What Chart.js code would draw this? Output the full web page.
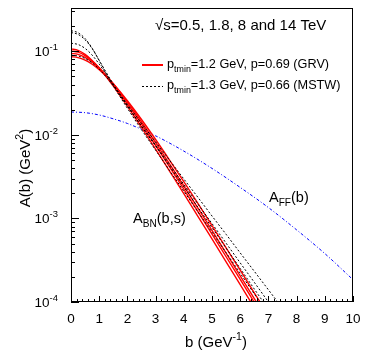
<!DOCTYPE html>
<html>
<head>
<meta charset="utf-8">
<script src="https://cdn.jsdelivr.net/npm/chart.js@4.4.0/dist/chart.umd.min.js"></script>
<style>
html, body { margin: 0; padding: 0; background: #fff; }
</style>
</head>
<body>
<canvas id="profileChart" width="373" height="360"></canvas>
<script>
// impact parameter grid (GeV^-1) for the A_BN curves
const bGrid = [0, 0.25, 0.5, 0.75, 1, 1.25, 1.5, 2, 2.5, 3, 3.5, 4, 4.5, 5, 5.5, 6, 6.5, 7, 7.5];

// GRV, ptmin=1.2 GeV, p=0.69 : sqrt(s) = 0.5, 1.8, 8, 14 TeV
const grv05 = [0.107, 0.1028, 0.0919, 0.0776, 0.0630, 0.0497, 0.0383, 0.0220, 0.0123, 0.00675, 0.00366, 0.00198, 0.00106, 0.000568, 0.000303, 0.000161, 0.0000859, 0.0000457, 0.0000243];
const grv18 = [0.1009, 0.0977, 0.0888, 0.0766, 0.0635, 0.0510, 0.0401, 0.0237, 0.01347, 0.00749, 0.00411, 0.00224, 0.00121, 0.000649, 0.000348, 0.000186, 0.0000991, 0.0000528, 0.0000281];
const grv8 = [0.0946, 0.0920, 0.0847, 0.0743, 0.0626, 0.0512, 0.0409, 0.0248, 0.01435, 0.00809, 0.00448, 0.00245, 0.00133, 0.000718, 0.000385, 0.000206, 0.000110, 0.0000586, 0.0000312];
const grv14 = [0.0863, 0.0842, 0.0784, 0.0700, 0.0602, 0.0502, 0.0409, 0.0256, 0.01527, 0.00880, 0.00496, 0.00275, 0.00151, 0.000823, 0.000445, 0.000240, 0.000129, 0.0000689, 0.0000368];

// MSTW, ptmin=1.3 GeV, p=0.66
const mstw05 = [0.177, 0.167, 0.1422, 0.1091, 0.0773, 0.0541, 0.0387, 0.0208, 0.01156, 0.00658, 0.00373, 0.00212, 0.00120, 0.000684, 0.000389, 0.000221, 0.000125, 0.0000713, 0.0000405];
const mstw18 = [0.168, 0.1594, 0.1372, 0.1078, 0.0780, 0.0559, 0.0405, 0.0223, 0.01266, 0.00737, 0.00420, 0.00239, 0.00136, 0.000776, 0.000442, 0.000252, 0.000143, 0.0000817, 0.0000465];
const mstw8 = [0.125, 0.1208, 0.1083, 0.0901, 0.0703, 0.0530, 0.0395, 0.0222, 0.01279, 0.00753, 0.00439, 0.00256, 0.00149, 0.000869, 0.000506, 0.000294, 0.000172, 0.000100, 0.0000583];
const mstw14 = [0.0899, 0.0879, 0.0820, 0.0727, 0.0612, 0.0494, 0.0388, 0.0231, 0.01377, 0.00825, 0.00495, 0.00297, 0.00179, 0.00107, 0.000646, 0.000387, 0.000233, 0.000140, 0.0000841];

// form factor profile A_FF(b)
const bFF = [0, 0.5, 1, 1.5, 2, 3, 4, 5, 6, 7, 8, 9, 10];
const aFF = [0.0188, 0.01844, 0.0173, 0.01556, 0.0137, 0.00974, 0.00640, 0.00397, 0.00235, 0.00135, 0.00073, 0.00038, 0.000185];

// axes
const xMajorTicks = [0, 1, 2, 3, 4, 5, 6, 7, 8, 9, 10];
const xTickLabels = ['0', '1', '2', '3', '4', '5', '6', '7', '8', '9', '10'];
const yMajorTicks = [1e-4, 1e-3, 1e-2, 1e-1];
const yTickExponents = ['-4', '-3', '-2', '-1'];
const yMax = 0.33;

const FONT = "'Liberation Sans', Arial, Helvetica, sans-serif";

const xTicks = [];
xMajorTicks.forEach((v, i) => {
    xTicks.push({ value: v, major: true });
    if (i < xMajorTicks.length - 1) {
        for (let k = 1; k < 5; k++) xTicks.push({ value: v + k * 0.2, major: false });
    }
});
const yTicks = [];
yMajorTicks.forEach(v => {
    for (let k = 1; k <= 9; k++) {
        if (v * k <= yMax) yTicks.push({ value: v * k, major: k === 1 });
    }
});

function pts(xs, ys) {
    return ys.map((y, i) => ({ x: xs[i], y: y }));
}

// text with sub/superscripts: parts = [[text, mode]], mode 0 normal, 1 sub, 2 sup
function richText(ctx, parts, x, y, size, align) {
    let total = 0;
    const widths = parts.map(([t, m]) => {
        ctx.font = (m ? size * 0.7 : size) + 'px ' + FONT;
        const w = ctx.measureText(t).width;
        total += w;
        return w;
    });
    let cx = align === 'center' ? x - total / 2 : (align === 'right' ? x - total : x);
    ctx.textAlign = 'left';
    ctx.textBaseline = 'alphabetic';
    parts.forEach(([t, m], i) => {
        ctx.font = (m ? size * 0.7 : size) + 'px ' + FONT;
        const dy = m === 1 ? size * 0.3 : (m === 2 ? -size * 0.45 : 0);
        ctx.fillText(t, cx, y + dy);
        cx += widths[i];
    });
}

const rootStyle = {
    id: 'rootStyle',
    afterDraw(chart) {
        const ctx = chart.ctx;
        const a = chart.chartArea;
        const xs = chart.scales.x, ys = chart.scales.y;
        ctx.save();
        ctx.strokeStyle = '#000';
        ctx.fillStyle = '#000';
        ctx.lineWidth = 1;
        ctx.setLineDash([]);
        ctx.strokeRect(a.left + 0.5, a.top + 0.5, a.right - a.left - 1, a.bottom - a.top - 1);

        ctx.beginPath();
        xs.ticks.forEach(t => {
            const px = Math.round(xs.getPixelForValue(t.value)) + 0.5;
            const len = t.major ? 6 : 3;
            ctx.moveTo(px, a.bottom);
            ctx.lineTo(px, a.bottom - len);
        });
        ys.ticks.forEach(t => {
            const py = Math.round(ys.getPixelForValue(t.value)) + 0.5;
            const len = t.major ? 8 : 4;
            ctx.moveTo(a.left, py);
            ctx.lineTo(a.left + len, py);
        });
        ctx.stroke();

        // y tick labels 10^n
        yMajorTicks.forEach((v, i) => {
            const py = ys.getPixelForValue(v);
            richText(ctx, [['10', 0], [yTickExponents[i], 2]], 58, py + 5, 13.5, 'right');
        });

        // axis titles
        richText(ctx, [['b (GeV', 0], ['-1', 2], [')', 0]], 216, 347, 15, 'center');
        ctx.save();
        ctx.translate(25, 168);
        ctx.rotate(-Math.PI / 2);
        richText(ctx, [['A(b) (GeV', 0], ['2', 2], [')', 0]], 0, 5, 15, 'center');
        ctx.restore();

        // header and legend
        richText(ctx, [['\u221As=0.5, 1.8, 8 and 14 TeV', 0]], 155, 30, 15, 'left');
        ctx.strokeStyle = '#ff0000';
        ctx.lineWidth = 2;
        ctx.beginPath();
        ctx.moveTo(142, 65);
        ctx.lineTo(163, 65);
        ctx.stroke();
        ctx.strokeStyle = '#000';
        ctx.lineWidth = 1;
        ctx.setLineDash([2, 2]);
        ctx.beginPath();
        ctx.moveTo(142, 86.5);
        ctx.lineTo(163, 86.5);
        ctx.stroke();
        ctx.setLineDash([]);
        richText(ctx, [['p', 0], ['tmin', 1], ['=1.2 GeV, p=0.69 (GRV)', 0]], 167, 68, 12.7, 'left');
        richText(ctx, [['p', 0], ['tmin', 1], ['=1.3 GeV, p=0.66 (MSTW)', 0]], 167, 89, 12.7, 'left');

        // curve labels
        richText(ctx, [['A', 0], ['BN', 1], ['(b,s)', 0]], 133, 223, 14.5, 'left');
        richText(ctx, [['A', 0], ['FF', 1], ['(b)', 0]], 269, 202, 14.5, 'left');
        ctx.restore();
    }
};

const mstwStyle = { borderColor: '#000000', borderWidth: 1, borderDash: [2, 2] };
const grvStyle = { borderColor: '#ff0000', borderWidth: 1.4 };

const profileChart = new Chart(document.getElementById('profileChart').getContext('2d'), {
    type: 'line',
    data: {
        datasets: [
            { label: 'MSTW 0.5 TeV', data: pts(bGrid, mstw05), ...mstwStyle },
            { label: 'MSTW 1.8 TeV', data: pts(bGrid, mstw18), ...mstwStyle },
            { label: 'MSTW 8 TeV', data: pts(bGrid, mstw8), ...mstwStyle },
            { label: 'MSTW 14 TeV', data: pts(bGrid, mstw14), ...mstwStyle },
            { label: 'GRV 0.5 TeV', data: pts(bGrid, grv05), ...grvStyle },
            { label: 'GRV 1.8 TeV', data: pts(bGrid, grv18), ...grvStyle },
            { label: 'GRV 8 TeV', data: pts(bGrid, grv8), ...grvStyle },
            { label: 'GRV 14 TeV', data: pts(bGrid, grv14), ...grvStyle },
            { label: 'A_FF(b)', data: pts(bFF, aFF), borderColor: '#0000ff', borderWidth: 1, borderDash: [3, 2, 1, 2] }
        ]
    },
    options: {
        responsive: false,
        animation: false,
        devicePixelRatio: 1,
        elements: {
            point: { radius: 0 },
            line: { cubicInterpolationMode: 'monotone', fill: false }
        },
        layout: { padding: { left: 0, right: 20, top: 8, bottom: 0 } },
        plugins: { legend: { display: false }, tooltip: { enabled: false } },
        scales: {
            x: {
                type: 'linear',
                min: 0,
                max: 10,
                afterBuildTicks: s => { s.ticks = xTicks.map(t => ({ value: t.value, major: t.major })); },
                afterFit: s => { s.height = 58; },
                grid: { display: false, drawTicks: false },
                border: { display: false },
                ticks: {
                    autoSkip: false,
                    maxRotation: 0,
                    padding: 9,
                    color: '#000',
                    font: { family: FONT, size: 13.5 },
                    callback: (v) => {
                        const i = xMajorTicks.indexOf(Math.round(v * 1000) / 1000);
                        return i >= 0 ? xTickLabels[i] : '';
                    }
                }
            },
            y: {
                type: 'logarithmic',
                min: 1e-4,
                max: yMax,
                afterBuildTicks: s => { s.ticks = yTicks.map(t => ({ value: t.value, major: t.major })); },
                afterFit: s => { s.width = 71; },
                grid: { display: false, drawTicks: false },
                border: { display: false },
                ticks: { display: false }
            }
        }
    },
    plugins: [rootStyle]
});
</script>
</body>
</html>
